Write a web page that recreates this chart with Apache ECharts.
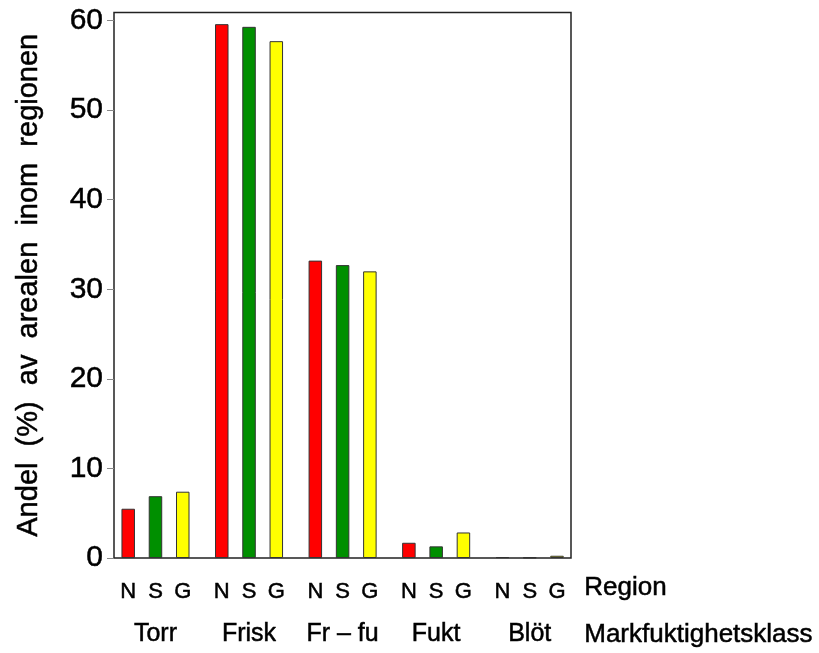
<!DOCTYPE html>
<html>
<head>
<meta charset="utf-8">
<script src="https://cdn.jsdelivr.net/npm/echarts@6/dist/echarts.min.js"></script>
<style>html,body{margin:0;padding:0;background:#fff}#c{width:819px;height:653px}</style>
</head>
<body>
<div id="c"></div>
<script>
var groups = ['Torr', 'Frisk', 'Fr \u2013 fu', 'Fukt', 'Bl\u00f6t'];
var regions = ['N', 'S', 'G'];
var valuesN = [5.5, 59.6, 33.2, 1.7, 0.1];
var valuesS = [6.9, 59.3, 32.7, 1.3, 0.05];
var valuesG = [7.4, 57.7, 32.0, 2.85, 0.25];
var yTicks = [0, 10, 20, 30, 40, 50, 60];
var yTitle = 'Andel  (%)  av  arealen  inom  regionen';
var regionTitle = 'Region';
var classTitle = 'Markfuktighetsklass';

var FONT = 'Liberation Sans';
var colors = ['#ff0000', '#008f00', '#ffff00'];
var seriesValues = [valuesN, valuesS, valuesG];
var YMAX = 60.9;
var thick = {textBorderColor: '#000', textBorderWidth: 0.5};

var chart = echarts.init(document.getElementById('c'), null, {renderer: 'canvas'});
var series = regions.map(function (r, i) {
  return {
    name: r,
    type: 'bar',
    xAxisIndex: 1,
    yAxisIndex: 1,
    data: seriesValues[i],
    barWidth: 13.5,
    barGap: '102%',
    itemStyle: {color: colors[i], borderColor: '#333', borderWidth: 1},
    label: Object.assign({
      show: true,
      position: ['50%', '100%'],
      offset: [0, 23],
      align: 'center',
      verticalAlign: 'top',
      formatter: function () { return r; },
      fontFamily: FONT,
      fontSize: 22,
      color: '#000'
    }, thick),
    emphasis: {disabled: true},
    animation: false
  };
});

chart.setOption({
  animation: false,
  grid: [
    {left: 114, right: 248, top: 12.5, bottom: 95, show: true, borderColor: '#222', borderWidth: 1.5, backgroundColor: 'transparent'},
    {left: 108.7, right: 242.5, top: 12.5, bottom: 95, show: false}
  ],
  xAxis: [
    {type: 'category', gridIndex: 0, data: groups, show: false},
    {
      type: 'category', gridIndex: 1, data: groups,
      axisLine: {show: false}, axisTick: {show: false},
      axisLabel: Object.assign({margin: 64, fontFamily: FONT, fontSize: 25, color: '#000', interval: 0}, thick)
    }
  ],
  yAxis: [
    {
      type: 'value', gridIndex: 0, min: 0, max: YMAX,
      splitLine: {show: false},
      axisLine: {show: false},
      axisTick: {show: true, length: 7, lineStyle: {color: '#888', width: 1}, customValues: yTicks},
      axisLabel: Object.assign({margin: 11, fontFamily: FONT, fontSize: 30, color: '#000', customValues: yTicks}, thick),
      name: yTitle,
      nameLocation: 'middle',
      nameGap: 71,
      nameRotate: 90,
      nameTextStyle: Object.assign({fontFamily: FONT, fontSize: 29, color: '#000'}, thick)
    },
    {type: 'value', gridIndex: 1, min: 0, max: YMAX, show: false}
  ],
  graphic: [
    {type: 'text', left: 584, top: 575, style: Object.assign({text: regionTitle, fontFamily: FONT, fontSize: 26, fill: '#000', stroke: '#000', lineWidth: 0.5})},
    {type: 'text', left: 584, top: 622, style: Object.assign({text: classTitle, fontFamily: FONT, fontSize: 26, fill: '#000', stroke: '#000', lineWidth: 0.5})}
  ],
  series: series
});
</script>
</body>
</html>
